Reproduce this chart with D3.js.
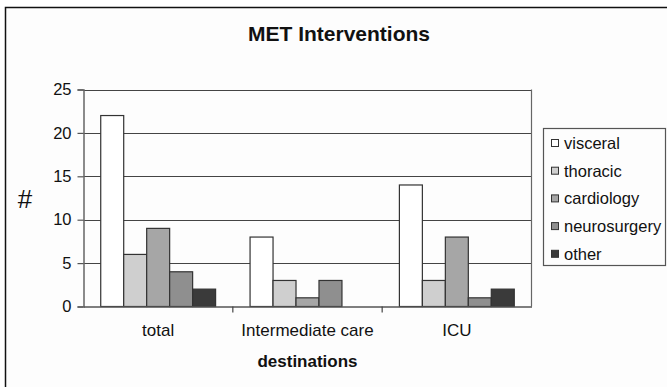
<!DOCTYPE html>
<html><head><meta charset="utf-8">
<script src="https://cdn.jsdelivr.net/npm/d3@7"></script>
<style>body{margin:0;background:#fff}svg{display:block}text{font-family:"Liberation Sans",Arial,sans-serif}</style>
</head><body>
<svg id="c" width="667" height="387"></svg>
<script>
const categories = ["total", "Intermediate care", "ICU"];
const seriesNames = ["visceral", "thoracic", "cardiology", "neurosurgery", "other"];
const visceral = [22, 8, 14];
const thoracic = [6, 3, 3];
const cardiology = [9, 1, 8];
const neurosurgery = [4, 3, 1];
const other = [2, 0, 2];
const yTicks = [0, 5, 10, 15, 20, 25];
const colors = ["#ffffff", "#cfcfcf", "#a6a6a6", "#8f8f8f", "#3a3a3a"];

const series = [visceral, thoracic, cardiology, neurosurgery, other];
const svg = d3.select("#c");
svg.append("rect").attr("x",5.5).attr("y",7.5).attr("width",670).attr("height",390)
  .attr("fill","#fdfdfd").attr("stroke","#111").attr("stroke-width",1.5);

const L=83.5, R=531.5, T=89.5, B=306.5;
const x0 = d3.scaleBand().domain(categories).range([L,R]).paddingInner(0).paddingOuter(0);
const bw = x0.bandwidth()/6.5;
const x1 = d3.scaleBand().domain(seriesNames).range([bw*0.75, x0.bandwidth()-bw*0.75]).padding(0);
const y = d3.scaleLinear().domain([0,25]).range([B,T]);

// grid
svg.append("g").selectAll("line").data(yTicks.filter(d=>d>0)).join("line")
  .attr("x1",L).attr("x2",R).attr("y1",d=>Math.round(y(d))+0.5).attr("y2",d=>Math.round(y(d))+0.5)
  .attr("stroke","#444").attr("stroke-width",1.2);
svg.append("line").attr("x1",R).attr("x2",R).attr("y1",T).attr("y2",B).attr("stroke","#666").attr("stroke-width",1.2);

// bars
const g = svg.append("g");
categories.forEach((c,ci)=>{
  seriesNames.forEach((s,si)=>{
    const v = series[si][ci];
    if (v<=0) return;
    g.append("rect").attr("x",x0(c)+x1(s)).attr("width",x1.bandwidth())
      .attr("y",y(v)).attr("height",y(0)-y(v))
      .attr("fill",colors[si]).attr("stroke","#333").attr("stroke-width",1.2);
  });
});

// axes
const ya = svg.append("g").attr("transform",`translate(${L},0)`)
  .call(d3.axisLeft(y).tickValues(yTicks).tickSize(6).tickPadding(6));
ya.select(".domain").attr("stroke","#666").attr("stroke-width",1.5);
ya.selectAll(".tick line").attr("stroke","#555").attr("stroke-width",1.2);
ya.selectAll("text").attr("font-size",16.5).attr("fill","#111");

const xa = svg.append("g").attr("transform",`translate(0,${B})`)
  .call(d3.axisBottom(x0).tickSize(0).tickPadding(17));
xa.select(".domain").attr("stroke","#555").attr("stroke-width",1.5);
xa.selectAll("text").attr("font-size",17).attr("fill","#111");
svg.append("g").selectAll("line").data(categories.slice(1)).join("line")
  .attr("x1",d=>x0(d)).attr("x2",d=>x0(d)).attr("y1",B).attr("y2",B+6).attr("stroke","#444").attr("stroke-width",1.2);

// titles
svg.append("text").attr("x",339).attr("y",40.5).attr("text-anchor","middle")
  .attr("font-size",21).attr("font-weight","bold").attr("fill","#111").text("MET Interventions");
svg.append("text").attr("x",(L+R)/2).attr("y",366.5).attr("text-anchor","middle")
  .attr("font-size",17).attr("font-weight","bold").attr("fill","#111").text("destinations");
svg.append("text").attr("x",25).attr("y",208).attr("text-anchor","middle")
  .attr("font-size",26).attr("fill","#111").text("#");

// legend
svg.append("rect").attr("x",543.5).attr("y",128.5).attr("width",122).attr("height",137)
  .attr("fill","#fdfdfd").attr("stroke","#555").attr("stroke-width",1.2);
const lg = svg.append("g").selectAll("g").data(seriesNames).join("g")
  .attr("transform",(d,i)=>`translate(551,${143+i*27.7})`);
lg.append("rect").attr("x",0.5).attr("y",-3.5).attr("width",7).attr("height",7)
  .attr("fill",(d,i)=>colors[i]).attr("stroke","#333").attr("stroke-width",1);
lg.append("text").attr("x",13).attr("y",6).attr("font-size",16.5).attr("fill","#111").text(d=>d);
</script>
</body></html>
